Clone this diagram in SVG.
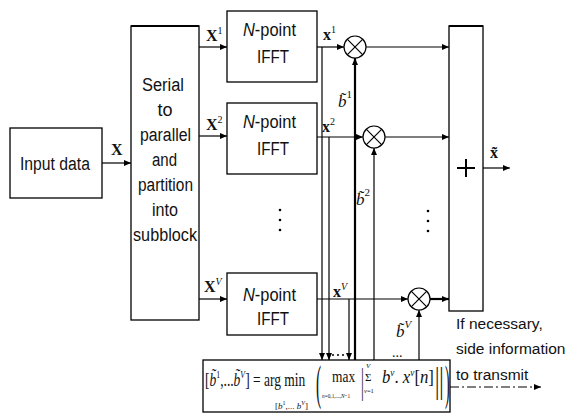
<svg xmlns="http://www.w3.org/2000/svg" width="566" height="414" viewBox="0 0 566 414">
<style>
.box{fill:#fff;stroke:#000;stroke-width:1.3}
.ln{fill:none;stroke:#000;stroke-width:1.2}
.thk{fill:none;stroke:#000;stroke-width:2.2}
.sans{font-family:"Liberation Sans",Arial,sans-serif;font-size:18px;fill:#111}
.side{font-family:"Liberation Sans",Arial,sans-serif;font-size:15.5px;fill:#111}
.lab{font-family:"Liberation Serif","Times New Roman",serif;font-size:16px;font-weight:bold;fill:#111}
.it{font-family:"Liberation Serif","Times New Roman",serif;font-style:italic;font-size:17px;fill:#111}
.f{font-family:"Liberation Serif","Times New Roman",serif;fill:#111}
</style>
<defs>
<marker id="a" markerWidth="7" markerHeight="6" refX="7" refY="3" orient="auto" markerUnits="userSpaceOnUse"><path d="M0,0 L7,3 L0,6 z" fill="#000"/></marker>
</defs>

<g id="input">
<rect class="box" x="10" y="128" width="92" height="70"/>
<text class="sans" x="20" y="170" textLength="70" lengthAdjust="spacingAndGlyphs">Input data</text>
</g>

<g id="serial">
<rect class="box" x="131" y="26" width="68" height="294"/>
<line class="thk" x1="131" y1="26" x2="199" y2="26"/>
<text class="sans" x="142" y="91" textLength="42" lengthAdjust="spacingAndGlyphs">Serial</text>
<text class="sans" x="165" y="116" text-anchor="middle">to</text>
<text class="sans" x="140" y="141" textLength="51" lengthAdjust="spacingAndGlyphs">parallel</text>
<text class="sans" x="152" y="166" textLength="25" lengthAdjust="spacingAndGlyphs">and</text>
<text class="sans" x="138" y="191" textLength="55" lengthAdjust="spacingAndGlyphs">partition</text>
<text class="sans" x="152" y="216" textLength="26" lengthAdjust="spacingAndGlyphs">into</text>
<text class="sans" x="133" y="241" textLength="64" lengthAdjust="spacingAndGlyphs">subblock</text>
</g>

<g id="ifft1">
<rect class="box" x="227" y="11" width="90" height="71"/>
<text class="sans" x="243" y="36" textLength="53" lengthAdjust="spacingAndGlyphs"><tspan font-style="italic">N</tspan>-point</text>
<text class="sans" x="257" y="63" textLength="32" lengthAdjust="spacingAndGlyphs">IFFT</text>
</g>
<g id="ifft2">
<rect class="box" x="227" y="103" width="90" height="71"/>
<text class="sans" x="243" y="128" textLength="53" lengthAdjust="spacingAndGlyphs"><tspan font-style="italic">N</tspan>-point</text>
<text class="sans" x="257" y="155" textLength="32" lengthAdjust="spacingAndGlyphs">IFFT</text>
</g>
<g id="ifftV">
<rect class="box" x="227" y="273" width="90" height="62"/>
<text class="sans" x="243" y="301" textLength="53" lengthAdjust="spacingAndGlyphs"><tspan font-style="italic">N</tspan>-point</text>
<text class="sans" x="257" y="325" textLength="32" lengthAdjust="spacingAndGlyphs">IFFT</text>
</g>

<g id="mult1">
<circle class="ln" cx="355" cy="47" r="11"/>
<path class="ln" d="M347.2,39.2 L362.8,54.8 M362.8,39.2 L347.2,54.8"/>
</g>
<g id="mult2">
<circle class="ln" cx="374" cy="137" r="11"/>
<path class="ln" d="M366.2,129.2 L381.8,144.8 M381.8,129.2 L366.2,144.8"/>
</g>
<g id="multV">
<circle class="ln" cx="419" cy="299" r="11"/>
<path class="ln" d="M411.2,291.2 L426.8,306.8 M426.8,291.2 L411.2,306.8"/>
</g>

<g id="sum">
<rect class="box" x="449" y="26" width="34" height="285"/>
<line class="thk" x1="449" y1="26" x2="483" y2="26"/>
<path d="M457,168 L475,168 M466,159 L466,177" stroke="#000" stroke-width="2"/>
</g>

<g id="optimizer">
<rect class="box" x="203" y="360" width="247" height="52"/>
<text class="f" transform="translate(205,386) scale(0.71,1)" style="font-size:19px">[<tspan font-style="italic">b&#771;</tspan><tspan font-size="11" dy="-8">1</tspan><tspan dy="8">,...</tspan><tspan font-style="italic">b&#771;</tspan><tspan font-size="11" dy="-8" font-style="italic">V</tspan><tspan dy="8">] = arg min</tspan></text>
<text class="f" x="275" y="409" style="font-size:9px">[<tspan font-style="italic">b</tspan><tspan font-size="6" dy="-4">1</tspan><tspan dy="4">,... </tspan><tspan font-style="italic">b</tspan><tspan font-size="6" dy="-4" font-style="italic">V</tspan><tspan dy="4">]</tspan></text>
<text class="f" transform="translate(316,399) scale(0.55,1.75)" style="font-size:28px">(</text>
<text class="f" transform="translate(332,382) scale(0.79,1)" style="font-size:17px">max</text>
<text class="f" transform="translate(322,398) scale(0.76,1)" style="font-size:7px"><tspan font-style="italic">n</tspan>=0,1,...,<tspan font-style="italic">N</tspan>−1</text>
<text class="f" transform="translate(361,393) scale(0.6,1.5)" style="font-size:24px">|</text>
<text class="f" x="366" y="368" style="font-size:7px;font-style:italic">V</text>
<text class="f" x="365" y="381" style="font-size:11px">Σ</text>
<text class="f" x="364" y="393" style="font-size:6.5px"><tspan font-style="italic">v</tspan>=1</text>
<text class="f" transform="translate(382,383) scale(0.93,1)" style="font-size:18px"><tspan font-style="italic">b</tspan><tspan font-size="10" dy="-7" font-style="italic">v</tspan><tspan dy="7">. </tspan><tspan font-style="italic">x</tspan><tspan font-size="10" dy="-7" font-style="italic">v</tspan><tspan dy="7">[</tspan><tspan font-style="italic">n</tspan>]</text>
<text class="f" transform="translate(435,392) scale(0.9,1.5)" style="font-size:24px">||</text>
<text class="f" transform="translate(445,399) scale(0.5,1.7)" style="font-size:28px">)</text>
</g>

<g id="connectors">
<line class="ln" x1="102" y1="163" x2="131" y2="163" marker-end="url(#a)"/>
<line class="ln" x1="199" y1="47" x2="227" y2="47" marker-end="url(#a)"/>
<line class="ln" x1="199" y1="136" x2="227" y2="136" marker-end="url(#a)"/>
<line class="ln" x1="199" y1="299" x2="227" y2="299" marker-end="url(#a)"/>
<line class="ln" x1="317" y1="47" x2="344" y2="47" marker-end="url(#a)"/>
<line class="ln" x1="317" y1="137" x2="363" y2="137" marker-end="url(#a)"/>
<line class="ln" x1="317" y1="299" x2="408" y2="299" marker-end="url(#a)"/>
<line class="ln" x1="322" y1="47" x2="322" y2="360" marker-end="url(#a)"/>
<line class="ln" x1="329" y1="137" x2="329" y2="360" marker-end="url(#a)"/>
<line class="ln" x1="349" y1="299" x2="349" y2="360" marker-end="url(#a)"/>
<line x1="332" y1="355" x2="346" y2="355" stroke="#000" stroke-width="1.5" stroke-dasharray="2,3"/>
<line class="thk" x1="355" y1="360" x2="355" y2="58" marker-end="url(#a)"/>
<line class="ln" x1="374" y1="360" x2="374" y2="148" marker-end="url(#a)"/>
<line class="ln" x1="419" y1="360" x2="419" y2="310" marker-end="url(#a)"/>
<line class="ln" x1="366" y1="47" x2="449" y2="47" marker-end="url(#a)"/>
<line class="ln" x1="385" y1="137" x2="449" y2="137" marker-end="url(#a)"/>
<line class="thk" x1="430" y1="299" x2="449" y2="299" marker-end="url(#a)"/>
<line class="ln" x1="483" y1="168" x2="510" y2="168" marker-end="url(#a)"/>
<line class="ln" x1="450" y1="387" x2="541" y2="387" stroke-dasharray="9,3,2,3" marker-end="url(#a)"/>
</g>

<g id="labels">
<text class="lab" x="111" y="155">X</text>
<text class="lab" x="206" y="41">X<tspan font-size="10" font-weight="normal" dy="-7">1</tspan></text>
<text class="lab" x="206" y="130">X<tspan font-size="10" font-weight="normal" dy="-7">2</tspan></text>
<text class="lab" x="204" y="292">X<tspan font-size="10" font-weight="normal" font-style="italic" dy="-7">V</tspan></text>
<text class="lab" x="323" y="40">x<tspan font-size="10" font-weight="normal" dy="-7">1</tspan></text>
<text class="lab" x="322" y="132">x<tspan font-size="10" font-weight="normal" dy="-7">2</tspan></text>
<text class="lab" x="333" y="297">x<tspan font-size="10" font-weight="normal" font-style="italic" dy="-7">V</tspan></text>
<text class="it" x="338" y="107">b&#771;<tspan font-size="11" font-style="normal" dy="-9">1</tspan></text>
<text class="it" x="356" y="205">b&#771;<tspan font-size="11" font-style="normal" dy="-9">2</tspan></text>
<text class="it" x="396" y="337">b&#771;<tspan font-size="11" dy="-9">V</tspan></text>
<text class="lab" x="490" y="158">x&#771;</text>
<text class="f" x="392" y="357" style="font-size:14px">...</text>
<text class="side" x="456" y="329">If necessary,</text>
<text class="side" x="456" y="354">side information</text>
<text class="side" x="456" y="380">to transmit</text>
<circle cx="280" cy="210" r="1.3"/>
<circle cx="280" cy="220" r="1.3"/>
<circle cx="280" cy="230" r="1.3"/>
<circle cx="428" cy="211" r="1.3"/>
<circle cx="428" cy="221" r="1.3"/>
<circle cx="428" cy="231" r="1.3"/>
</g>
</svg>
